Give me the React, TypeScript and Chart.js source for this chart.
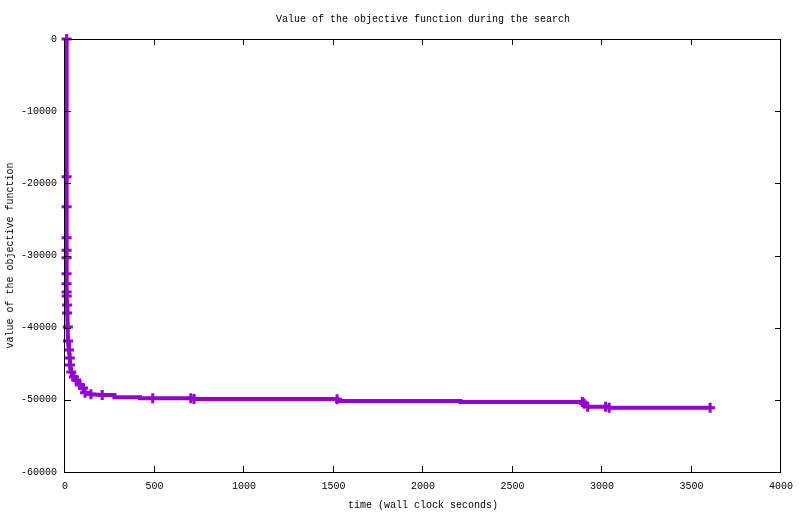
import React, { useEffect, useRef } from "react";
import { Chart, registerables } from "chart.js";

Chart.register(...registerables);

// Curve (all vertices of the drawn line), time in seconds / objective value
const lineTimes = [
  9, 9, 9, 9, 9, 9, 9, 9, 9, 10, 12, 12, 16, 17, 22, 27, 28, 35, 50, 62, 84, 101,
  112, 145, 208, 276, 276, 419, 419, 490, 703, 721, 1520, 1520, 2210, 2210, 2895,
  2905, 2925, 3030, 3040, 3604,
];
const lineValues = [
  0, -19080, -23240, -27530, -29280, -30300, -32530, -33910, -35060, -35610,
  -36860, -37970, -39910, -41850, -43090, -44200, -45170, -46140, -46830, -47250,
  -47940, -48360, -49010, -49230, -49330, -49330, -49650, -49650, -49790, -49790,
  -49790, -49890, -49890, -50160, -50160, -50300, -50300, -50500, -50950, -50950,
  -51100, -51100,
];

// Points marked with "+"
const markTimes = [
  9, 9, 9, 9, 9, 9, 9, 9, 9, 10, 12, 12, 16, 17, 22, 27, 28, 35, 50, 62, 84, 101,
  112, 145, 208, 490, 703, 721, 1520, 2890, 2900, 2920, 3020, 3040, 3604,
];
const markValues = [
  0, -19080, -23240, -27530, -29280, -30300, -32530, -33910, -35060, -35610,
  -36860, -37970, -39910, -41850, -43090, -44200, -45170, -46140, -46830, -47250,
  -47940, -48360, -49010, -49230, -49330, -49790, -49790, -49890, -49930, -50300,
  -50500, -50950, -50950, -51100, -51100,
];

const xTicks = [0, 500, 1000, 1500, 2000, 2500, 3000, 3500, 4000];
const yTicks = [-60000, -50000, -40000, -30000, -20000, -10000, 0];

const titleText = "Value of the objective function during the search";
const xTitle = "time (wall clock seconds)";
const yTitle = "value of the objective function";

const FONT = "'Liberation Mono', 'DejaVu Sans Mono', monospace";
const COLOR = "#9400d3";

const frameAndTicks = {
  id: "frameAndTicks",
  afterDatasetsDraw(chart: any) {
    const { ctx, chartArea: a, scales } = chart;
    const xs = scales.x;
    const ys = scales.y;
    ctx.save();
    ctx.strokeStyle = "#000";
    ctx.lineWidth = 1;
    ctx.beginPath();
    const L = 6;
    for (const t of xs.ticks) {
      const px = Math.round(xs.getPixelForValue(t.value)) - 0.5;
      ctx.moveTo(px, a.bottom);
      ctx.lineTo(px, a.bottom - L);
      ctx.moveTo(px, a.top);
      ctx.lineTo(px, a.top + L);
    }
    for (const t of ys.ticks) {
      const py = Math.round(ys.getPixelForValue(t.value)) + 0.5;
      ctx.moveTo(a.left, py);
      ctx.lineTo(a.left + L, py);
      ctx.moveTo(a.right, py);
      ctx.lineTo(a.right - L, py);
    }
    ctx.stroke();
    ctx.strokeRect(
      Math.round(a.left) - 0.5,
      Math.round(a.top) + 0.5,
      Math.round(a.right - a.left),
      Math.round(a.bottom - a.top)
    );
    ctx.restore();
  },
};

export default function App() {
  const ref = useRef<HTMLCanvasElement | null>(null);

  useEffect(() => {
    if (!ref.current) return;
    const textFont = { family: FONT, size: 10, lineHeight: 1.2 };
    const chart = new Chart(ref.current, {
      type: "line",
      data: {
        datasets: [
          {
            label: "curve",
            data: lineTimes.map((t, i) => ({ x: t, y: lineValues[i] })),
            borderColor: COLOR,
            backgroundColor: COLOR,
            borderWidth: 4,
            pointRadius: 0,
            pointHoverRadius: 0,
            tension: 0,
            fill: false,
            clip: false as any,
          },
          {
            label: "marks",
            data: markTimes.map((t, i) => ({ x: t, y: markValues[i] })),
            showLine: false,
            borderColor: COLOR,
            backgroundColor: COLOR,
            pointStyle: "cross",
            pointRadius: 5,
            pointBorderWidth: 3,
            pointHoverRadius: 5,
            clip: false as any,
          },
        ],
      },
      options: {
        animation: false,
        responsive: false,
        events: [],
        layout: { padding: { left: 0, right: 19, top: 0, bottom: 0 } },
        plugins: {
          legend: { display: false },
          tooltip: { enabled: false },
          title: { display: false },
        },
        scales: {
          x: {
            type: "linear",
            min: 0,
            max: 4000,
            afterBuildTicks: (s: any) => {
              s.ticks = xTicks.map((v) => ({ value: v }));
            },
            afterFit: (s: any) => {
              s.height = 42;
              s.paddingLeft = 0;
              s.paddingRight = 0;
            },
            grid: { display: false, drawTicks: false },
            border: { display: false },
            ticks: {
              color: "#000",
              font: textFont,
              padding: 8,
              maxRotation: 0,
              autoSkip: false,
              callback: (v: any) => String(v),
            },
            title: {
              display: true,
              text: xTitle,
              color: "#000",
              font: textFont,
              padding: { top: 0, bottom: 3 },
            },
          },
          xTop: {
            type: "linear",
            position: "top",
            min: 0,
            max: 4000,
            afterFit: (s: any) => {
              s.height = 39;
              s.paddingLeft = 0;
              s.paddingRight = 0;
            },
            grid: { display: false, drawTicks: false },
            border: { display: false },
            ticks: { display: false },
            title: {
              display: true,
              text: titleText,
              color: "#000",
              font: textFont,
              padding: { top: 13, bottom: 0 },
            },
          },
          y: {
            type: "linear",
            min: -60000,
            max: 0,
            afterBuildTicks: (s: any) => {
              s.ticks = yTicks.map((v) => ({ value: v }));
            },
            afterFit: (s: any) => {
              s.width = 65;
            },
            grid: { display: false, drawTicks: false },
            border: { display: false },
            ticks: {
              color: "#000",
              font: textFont,
              padding: 8,
              autoSkip: false,
              callback: (v: any) => String(v),
            },
            title: {
              display: true,
              text: yTitle,
              color: "#000",
              font: textFont,
              padding: { top: 4, bottom: 0 },
            },
          },
        },
      },
      plugins: [frameAndTicks],
    });
    return () => chart.destroy();
  }, []);

  return (
    <div style={{ position: "absolute", left: 0, top: 0, width: 800, height: 514, background: "#fff" }}>
      <canvas ref={ref} width={800} height={514} style={{ display: "block" }} />
    </div>
  );
}
